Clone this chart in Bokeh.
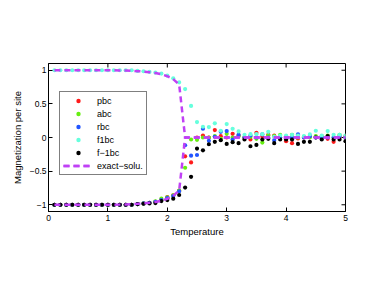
import math
from bokeh.plotting import figure
from bokeh.models import FixedTicker, Legend, LegendItem, Range1d
from bokeh.embed import file_html
from bokeh.resources import INLINE

temperature = [0.1, 0.2, 0.3, 0.4, 0.5, 0.6, 0.7, 0.8, 0.9, 1.0,
               1.1, 1.2, 1.3, 1.4, 1.5, 1.6, 1.7, 1.8, 1.9, 2.0,
               2.1, 2.2, 2.3, 2.4, 2.5, 2.6, 2.7, 2.8, 2.9, 3.0,
               3.1, 3.2, 3.3, 3.4, 3.5, 3.6, 3.7, 3.8, 3.9, 4.0,
               4.1, 4.2, 4.3, 4.4, 4.5, 4.6, 4.7, 4.8, 4.9, 5.0]

pbc = [-1.0, -1.0, -1.0, -1.0, -1.0, -1.0, -1.0, -1.0, -1.0, -1.0,
       -1.0, -1.0, -1.0, -1.0, -0.99, -0.98, -0.97, -0.955, -0.93, -0.885,
       -0.86, -0.79, -0.28, -0.37, 0.0, 0.03, 0.0, 0.11, 0.02, 0.0,
       0.055, 0.03, 0.0, -0.03, 0.07, 0.01, 0.04, 0.03, 0.0, -0.055,
       -0.085, -0.015, 0.0, 0.02, 0.01, 0.0, -0.02, -0.065, 0.0, 0.02]

abc = [-1.0, -1.0, -1.0, -1.0, -1.0, -1.0, -1.0, -1.0, -1.0, -1.0,
       -1.0, -1.0, -1.0, -1.0, -0.99, -0.98, -0.97, -0.95, -0.91, -0.89,
       -0.86, -0.79, -0.45, -0.03, -0.035, 0.0, 0.0, 0.02, -0.02, 0.055,
       0.0, 0.02, 0.0, 0.01, -0.02, -0.075, 0.03, 0.02, 0.04, 0.0,
       0.04, 0.0, 0.01, 0.0, 0.02, 0.02, 0.03, 0.0, 0.04, 0.0]

rbc = [-1.0, -1.0, -1.0, -1.0, -1.0, -1.0, -1.0, -1.0, -1.0, -1.0,
       -1.0, -1.0, -1.0, -1.0, -0.99, -0.98, -0.97, -0.955, -0.93, -0.9,
       -0.87, -0.8, -0.115, -0.27, -0.26, 0.13, -0.05, 0.01, 0.085, 0.095,
       -0.03, 0.04, 0.0, 0.03, 0.0, 0.045, 0.0, -0.04, 0.0, 0.01,
       0.0, 0.045, 0.0, 0.02, 0.0, 0.0, 0.0, 0.0, 0.02, 0.0]

f1bc = [1.0, 1.0, 1.0, 1.0, 1.0, 1.0, 1.0, 1.0, 1.0, 1.0,
        1.0, 1.0, 1.0, 1.0, 0.99, 0.985, 0.975, 0.965, 0.95, 0.92,
        0.88, 0.82, 0.72, 0.47, 0.23, 0.16, 0.155, 0.21, 0.10, 0.20,
        0.13, 0.09, 0.04, 0.05, 0.05, 0.05, 0.085, 0.01, 0.03, 0.03,
        0.04, 0.03, 0.02, 0.045, 0.10, 0.03, 0.095, 0.04, 0.04, 0.03]

fm1bc = [-1.0, -1.0, -1.0, -1.0, -1.0, -1.0, -1.0, -1.0, -1.0, -1.0,
         -1.0, -1.0, -1.0, -1.0, -0.99, -0.985, -0.98, -0.975, -0.945, -0.93,
         -0.91, -0.855, -0.745, -0.585, -0.165, -0.19, -0.10, -0.065, -0.04, -0.095,
         -0.07, -0.085, -0.03, -0.13, -0.11, -0.03, -0.02, -0.085, -0.03, -0.03,
         -0.03, -0.095, -0.065, -0.065, 0.0, -0.03, 0.02, -0.03, -0.03, -0.055]

exact_upper = [1.0, 1.0, 1.0, 1.0, 1.0, 1.0, 1.0, 1.0, 0.9997, 0.9993,
               0.9985, 0.997, 0.9947, 0.9915, 0.9863, 0.9796, 0.9703, 0.9575, 0.9402, 0.9113,
               0.8687, 0.7848, 0.0, 0.0, 0.0, 0.0, 0.0, 0.0, 0.0, 0.0,
               0.0, 0.0, 0.0, 0.0, 0.0, 0.0, 0.0, 0.0, 0.0, 0.0,
               0.0, 0.0, 0.0, 0.0, 0.0, 0.0, 0.0, 0.0, 0.0, 0.0]

exact_lower = [-1.0, -1.0, -1.0, -1.0, -1.0, -1.0, -1.0, -1.0, -0.9997, -0.9993,
               -0.9985, -0.997, -0.9947, -0.9915, -0.9863, -0.9796, -0.9703, -0.9575, -0.9402, -0.9113,
               -0.8687, -0.7848, 0.0, 0.0, 0.0, 0.0, 0.0, 0.0, 0.0, 0.0,
               0.0, 0.0, 0.0, 0.0, 0.0, 0.0, 0.0, 0.0, 0.0, 0.0,
               0.0, 0.0, 0.0, 0.0, 0.0, 0.0, 0.0, 0.0, 0.0, 0.0]

x_ticks = [0, 1, 2, 3, 4, 5]
y_ticks = [-1, -0.5, 0, 0.5, 1]
y_tick_labels = {-1: "\u22121", -0.5: "\u22120.5", 0: "0", 0.5: "0.5", 1: "1"}

X_MIN, X_MAX = 0, 5
Y_MIN, Y_MAX = -1.1, 1.1

FONT = "Liberation Sans"

p = figure(width=366, height=271, output_backend="svg", toolbar_location=None,
           x_range=Range1d(X_MIN, X_MAX), y_range=Range1d(Y_MIN, Y_MAX),
           min_border_left=48, min_border_right=21, min_border_top=63, min_border_bottom=60)
p.background_fill_color = "white"
p.border_fill_color = "white"
p.outline_line_color = "black"
p.xgrid.visible = False
p.ygrid.visible = False

def style_axis(ax):
    ax.major_tick_in = 4
    ax.major_tick_out = 0
    ax.minor_tick_line_color = None
    ax.axis_line_color = "black"
    ax.major_tick_line_color = "black"
    ax.major_label_text_font = FONT
    ax.major_label_text_font_size = "8.5px"
    ax.major_label_text_color = "black"
    ax.axis_label_text_font = FONT
    ax.axis_label_text_font_size = "9.5px"
    ax.axis_label_text_font_style = "normal"
    ax.axis_label_text_color = "black"

xa = p.xaxis[0]
xa.ticker = FixedTicker(ticks=x_ticks)
xa.axis_label = "Temperature"
xa.major_label_standoff = 3
xa.axis_label_standoff = 2
style_axis(xa)

ya = p.yaxis[0]
ya.ticker = FixedTicker(ticks=y_ticks)
ya.major_label_overrides = y_tick_labels
ya.axis_label = "Magnetization per site"
ya.major_label_standoff = 2
ya.axis_label_standoff = 4
style_axis(ya)

# inward ticks on the top and right edges of the box
p.ray(x=x_ticks, y=[Y_MAX] * len(x_ticks), length=4, length_units="screen",
      angle=-math.pi / 2, line_color="black", line_width=1)
p.ray(x=[X_MAX] * len(y_ticks), y=y_ticks, length=4, length_units="screen",
      angle=math.pi, line_color="black", line_width=1)

sz = 4.2
r_pbc = p.scatter(temperature, pbc, marker="circle", size=sz, color="#ff1a1a", line_color=None)
r_abc = p.scatter(temperature, abc, marker="circle", size=sz, color="#66ee11", line_color=None)
r_rbc = p.scatter(temperature, rbc, marker="circle", size=sz, color="#2255ff", line_color=None)
r_f1 = p.scatter(temperature, f1bc, marker="circle", size=sz, color="#66ffdd", line_color=None)
r_fm1 = p.scatter(temperature, fm1bc, marker="circle", size=sz, color="black", line_color=None)
r_ex1 = p.line(temperature, exact_upper, line_color="#c040f5", line_width=2.5, line_dash="6 4")
r_ex2 = p.line(temperature, exact_lower, line_color="#c040f5", line_width=2.5, line_dash="6 4")

legend = Legend(items=[
    LegendItem(label="pbc", renderers=[r_pbc]),
    LegendItem(label="abc", renderers=[r_abc]),
    LegendItem(label="rbc", renderers=[r_rbc]),
    LegendItem(label="f1bc", renderers=[r_f1]),
    LegendItem(label="f\u22121bc", renderers=[r_fm1]),
    LegendItem(label="exact\u2212solu.", renderers=[r_ex1, r_ex2]),
], location=(11, 36))
legend.label_text_font = FONT
legend.label_text_font_size = "9px"
legend.label_text_color = "black"
legend.label_height = 11
legend.glyph_height = 11
legend.glyph_width = 30
legend.spacing = 2
legend.padding = 3
legend.margin = 0
legend.label_standoff = 4
legend.border_line_color = "black"
legend.border_line_width = 1
legend.background_fill_color = "white"
legend.background_fill_alpha = 1.0
p.add_layout(legend, "center")

open("out.html", "w").write(file_html(p, INLINE))
